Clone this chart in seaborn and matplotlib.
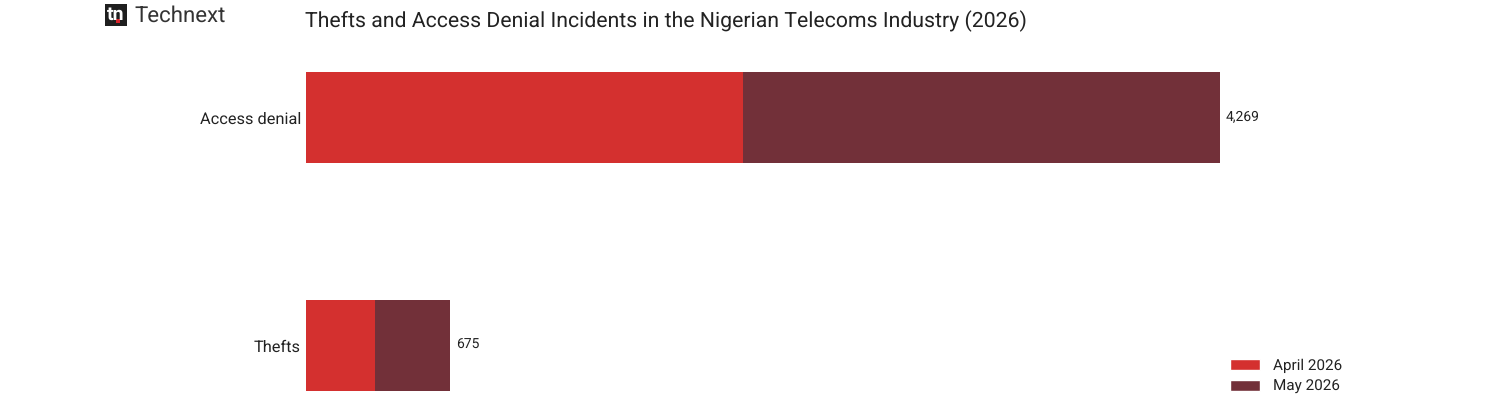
import matplotlib
matplotlib.use("Agg")
import matplotlib.pyplot as plt
from matplotlib.patches import Patch, Rectangle
import pandas as pd
import seaborn as sns

categories = ["Access denial", "Thefts"]
april_2026 = [2043, 325]
may_2026 = [2226, 350]
totals = [4269, 675]
total_labels = ["4,269", "675"]
series_names = ["April 2026", "May 2026"]

RED = "#d4302f"
MAROON = "#723039"
INK = "#222222"
W, H = 1500, 400

sns.set_theme(style="white")
plt.rcParams["font.family"] = ["Roboto", "DejaVu Sans"]
plt.rcParams["text.hinting"] = "none"


def fx(px):
    return px / W


def fy(py):
    return 1 - py / H


fig = plt.figure(figsize=(15, 4), dpi=100, facecolor="white")
ax = fig.add_axes([fx(305.5), fy(391), (1219.5 - 305.5) / W, (391 - 72) / H])

table = pd.DataFrame({"category": categories, "april": april_2026, "may": may_2026})
sns.barplot(data=table, y="category", x="april", order=categories, color=RED,
            saturation=1, width=0.4, linewidth=0, ax=ax)
sns.barplot(data=table, y="category", x="may", order=categories, color=MAROON,
            saturation=1, width=0.4, linewidth=0, left=april_2026, ax=ax)

ax.set_xlim(0, max(totals))
ax.set_ylim(1.2, -0.2)
ax.set_xlabel("")
ax.set_ylabel("")
ax.xaxis.set_visible(False)
ax.tick_params(axis="y", length=0, pad=3.2, labelsize=11.8, labelcolor=INK)
sns.despine(ax=ax, left=True, bottom=True)

for i, (total, label) in enumerate(zip(totals, total_labels)):
    ax.annotate(label, (total, i), xytext=(4.6, 0.6), textcoords="offset points",
                va="center", ha="left", fontsize=10, color=INK)

fig.text(fx(305), fy(21), "Thefts and Access Denial Incidents in the Nigerian Telecoms Industry (2026)",
         fontsize=15.3, color=INK, va="center", ha="left")

# Brand mark in the top-left corner
fig.add_artist(Rectangle((fx(105), fy(26)), 22 / W, 22 / H, transform=fig.transFigure,
                         facecolor="#1f1f1f", edgecolor="none"))
fig.add_artist(Rectangle((fx(116), fy(23)), 4 / W, 4 / H, transform=fig.transFigure,
                         facecolor="#d8232a", edgecolor="none"))
fig.text(fx(116), fy(15), "tn", fontsize=14, fontweight="bold", color="white", va="center", ha="center")
fig.text(fx(134.5), fy(16), "Technext", fontsize=16, color="#333333", va="center", ha="left")

handles = [Patch(facecolor=RED, label=series_names[0]), Patch(facecolor=MAROON, label=series_names[1])]
fig.legend(handles=handles, loc="lower left", bbox_to_anchor=(fx(1224), fy(400)), frameon=False,
           fontsize=11, labelcolor=INK, handlelength=1.96, handleheight=0.72,
           handletextpad=0.85, labelspacing=0.45, borderpad=0.4, borderaxespad=0)

fig.savefig("out.png", dpi=100, facecolor="white")
